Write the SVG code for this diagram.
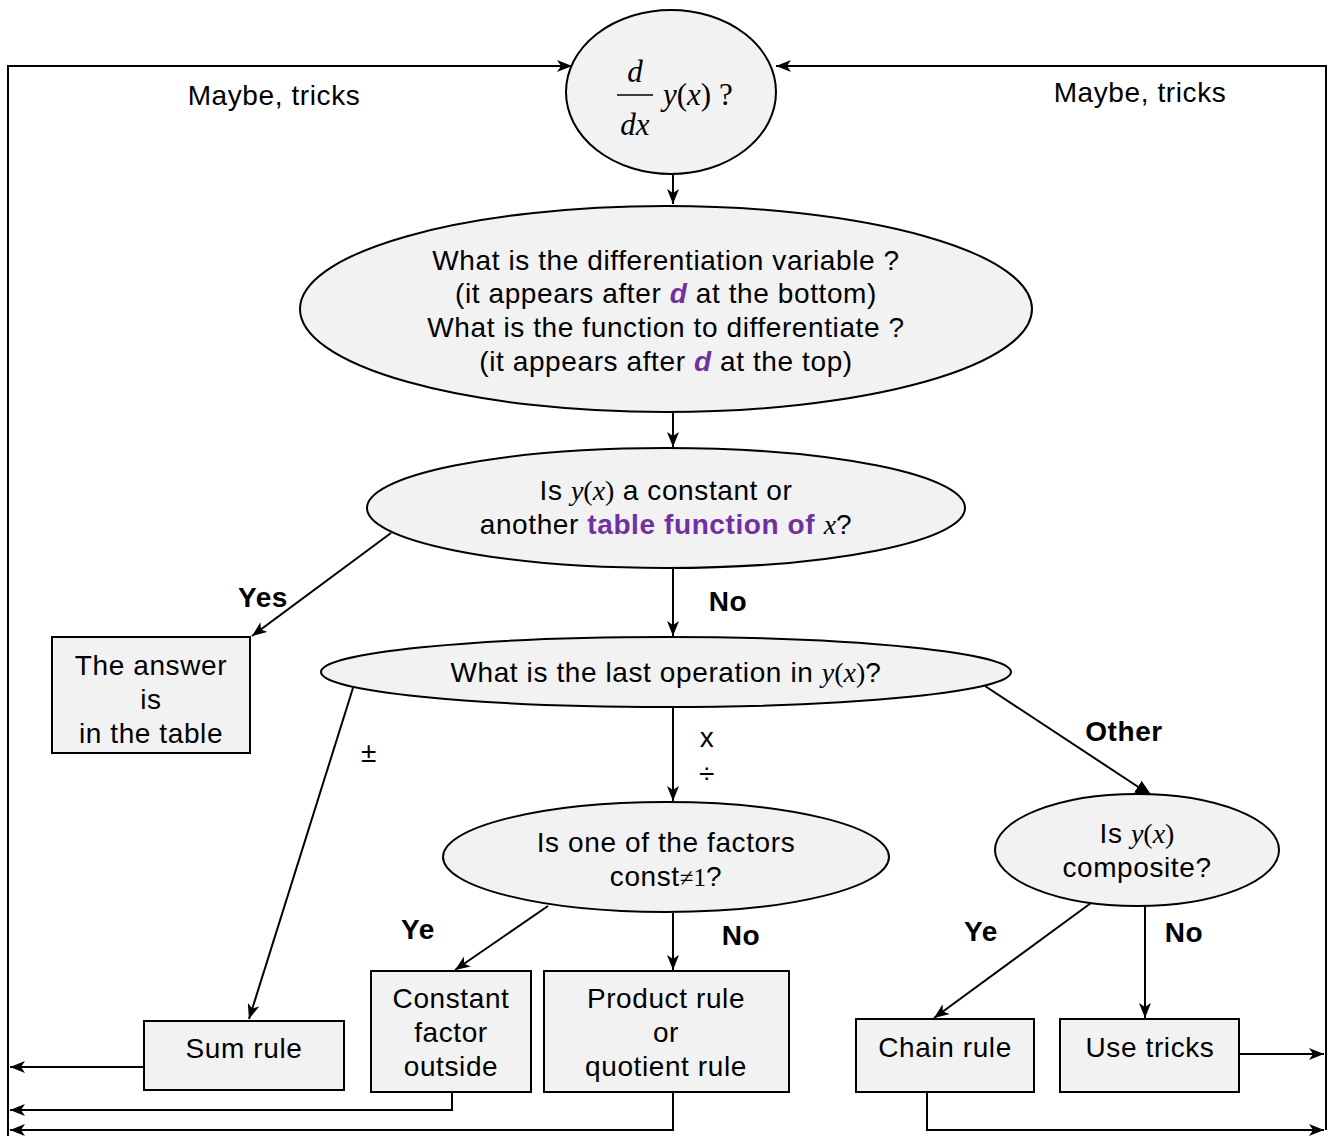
<svg xmlns="http://www.w3.org/2000/svg" width="1329" height="1138" viewBox="0 0 1329 1138">
<style>
.n{fill:#f2f2f2;stroke:#000;stroke-width:2}
.c{fill:none;stroke:#000;stroke-width:2}
.t{font-family:"Liberation Sans",Arial,sans-serif;font-size:28px;letter-spacing:0.6px;fill:#000;text-anchor:middle}
.b{font-family:"Liberation Sans",Arial,sans-serif;font-size:28px;letter-spacing:0.6px;font-weight:bold;fill:#000;text-anchor:middle}
.m{font-family:"Liberation Serif","Times New Roman",serif;font-style:italic;letter-spacing:0}
.u{font-family:"Liberation Serif","Times New Roman",serif;font-style:normal;letter-spacing:0}
.p{fill:#7030a0;font-weight:bold}
.fr{font-family:"Liberation Serif","Times New Roman",serif;font-style:italic;font-size:31px;fill:#000;text-anchor:middle}
</style>
<defs>
<marker id="a" markerUnits="userSpaceOnUse" markerWidth="16" markerHeight="12" refX="15" refY="6" orient="auto">
<path d="M0,0 L15,6 L0,12 L4,6 Z" fill="#000"/>
</marker>
<marker id="f" markerUnits="userSpaceOnUse" markerWidth="18" markerHeight="14" refX="17" refY="7" orient="auto">
<path d="M0,0 L17,7 L0,14 Z" fill="#000"/>
</marker>
</defs>
<rect width="1329" height="1138" fill="#fff"/>
<g id="connectors">
<path class="c" d="M8,1136 L8,66 L572,66" marker-end="url(#a)"/>
<path class="c" d="M1326,1130 L1326,66 L776,66" marker-end="url(#a)"/>
<path class="c" d="M673,175 L673,204" marker-end="url(#a)"/>
<path class="c" d="M673,412 L673,447" marker-end="url(#a)"/>
<path class="c" d="M391,533 L252,636" marker-end="url(#a)"/>
<path class="c" d="M673,569 L673,636" marker-end="url(#a)"/>
<path class="c" d="M353,688 L249,1019" marker-end="url(#a)"/>
<path class="c" d="M673,707 L673,801" marker-end="url(#a)"/>
<path class="c" d="M985,686 L1152,796" marker-end="url(#f)"/>
<path class="c" d="M548,906 L455,970" marker-end="url(#a)"/>
<path class="c" d="M673,913 L673,970" marker-end="url(#a)"/>
<path class="c" d="M1091,903 L934,1018" marker-end="url(#a)"/>
<path class="c" d="M1145,906 L1145,1018" marker-end="url(#a)"/>
<path class="c" d="M144,1067 L10,1067" marker-end="url(#a)"/>
<path class="c" d="M452,1092 L452,1110 L10,1110" marker-end="url(#a)"/>
<path class="c" d="M673,1092 L673,1130 L10,1130" marker-end="url(#a)"/>
<path class="c" d="M1239,1054 L1324,1054" marker-end="url(#a)"/>
<path class="c" d="M927,1092 L927,1130 L1324,1130" marker-end="url(#a)"/>
</g>
<g id="edge-labels">
<text class="t" x="274" y="105">Maybe, tricks</text>
<text class="t" x="1140" y="102">Maybe, tricks</text>
<text class="b" x="263" y="607">Yes</text>
<text class="b" x="728" y="611">No</text>
<text class="t" x="369" y="762">±</text>
<text class="t" x="707" y="747">x</text>
<text class="t" x="707" y="783">÷</text>
<text class="b" x="1124" y="741">Other</text>
<text class="b" x="418" y="939">Ye</text>
<text class="b" x="741" y="945">No</text>
<text class="b" x="981" y="941">Ye</text>
<text class="b" x="1184" y="942">No</text>
</g>
<g id="start">
<ellipse class="n" cx="671" cy="92" rx="105" ry="82"/>
<text class="fr" x="635" y="82">d</text>
<line x1="617" y1="95" x2="653" y2="95" stroke="#000" stroke-width="1.5"/>
<text class="fr" x="635" y="135">dx</text>
<text class="fr" x="663" y="105" style="text-anchor:start">y<tspan font-style="normal">(</tspan>x<tspan font-style="normal">)</tspan><tspan font-style="normal"> ?</tspan></text>
</g>
<g id="variable">
<ellipse class="n" cx="666" cy="309" rx="366" ry="103"/>
<text class="t" x="666" y="270">What is the differentiation variable ?</text>
<text class="t" x="666" y="303">(it appears after <tspan class="p" font-style="italic">d</tspan> at the bottom)</text>
<text class="t" x="666" y="337">What is the function to differentiate ?</text>
<text class="t" x="666" y="371">(it appears after <tspan class="p" font-style="italic">d</tspan> at the top)</text>
</g>
<g id="table-q">
<ellipse class="n" cx="666" cy="508" rx="299" ry="60"/>
<text class="t" x="666" y="500">Is <tspan class="m">y</tspan><tspan class="u">(</tspan><tspan class="m">x</tspan><tspan class="u">)</tspan> a constant or</text>
<text class="t" x="666" y="534">another <tspan class="p">table function of </tspan><tspan class="m">x</tspan>?</text>
</g>
<g id="answer-table">
<rect class="n" x="52" y="637" width="198" height="116"/>
<text class="t" x="151" y="675">The answer</text>
<text class="t" x="151" y="709">is</text>
<text class="t" x="151" y="743">in the table</text>
</g>
<g id="last-op">
<ellipse class="n" cx="666" cy="672" rx="345" ry="35"/>
<text class="t" x="666" y="682">What is the last operation in <tspan class="m">y</tspan><tspan class="u">(</tspan><tspan class="m">x</tspan><tspan class="u">)</tspan>?</text>
</g>
<g id="factors-q">
<ellipse class="n" cx="666" cy="857" rx="223" ry="55"/>
<text class="t" x="666" y="852">Is one of the factors</text>
<text class="t" x="666" y="886">const<tspan class="u" style="font-size:25px">≠1</tspan>?</text>
</g>
<g id="composite-q">
<ellipse class="n" cx="1137" cy="850" rx="142" ry="56"/>
<text class="t" x="1137" y="843">Is <tspan class="m">y</tspan><tspan class="u">(</tspan><tspan class="m">x</tspan><tspan class="u">)</tspan></text>
<text class="t" x="1137" y="877">composite?</text>
</g>
<g id="sum-rule">
<rect class="n" x="144" y="1021" width="200" height="69"/>
<text class="t" x="244" y="1058">Sum rule</text>
</g>
<g id="constant-factor">
<rect class="n" x="371" y="971" width="160" height="121"/>
<text class="t" x="451" y="1008">Constant</text>
<text class="t" x="451" y="1042">factor</text>
<text class="t" x="451" y="1076">outside</text>
</g>
<g id="product-rule">
<rect class="n" x="544" y="971" width="245" height="121"/>
<text class="t" x="666" y="1008">Product rule</text>
<text class="t" x="666" y="1042">or</text>
<text class="t" x="666" y="1076">quotient rule</text>
</g>
<g id="chain-rule">
<rect class="n" x="856" y="1019" width="178" height="73"/>
<text class="t" x="945" y="1057">Chain rule</text>
</g>
<g id="use-tricks">
<rect class="n" x="1060" y="1019" width="179" height="73"/>
<text class="t" x="1150" y="1057">Use tricks</text>
</g>
</svg>
